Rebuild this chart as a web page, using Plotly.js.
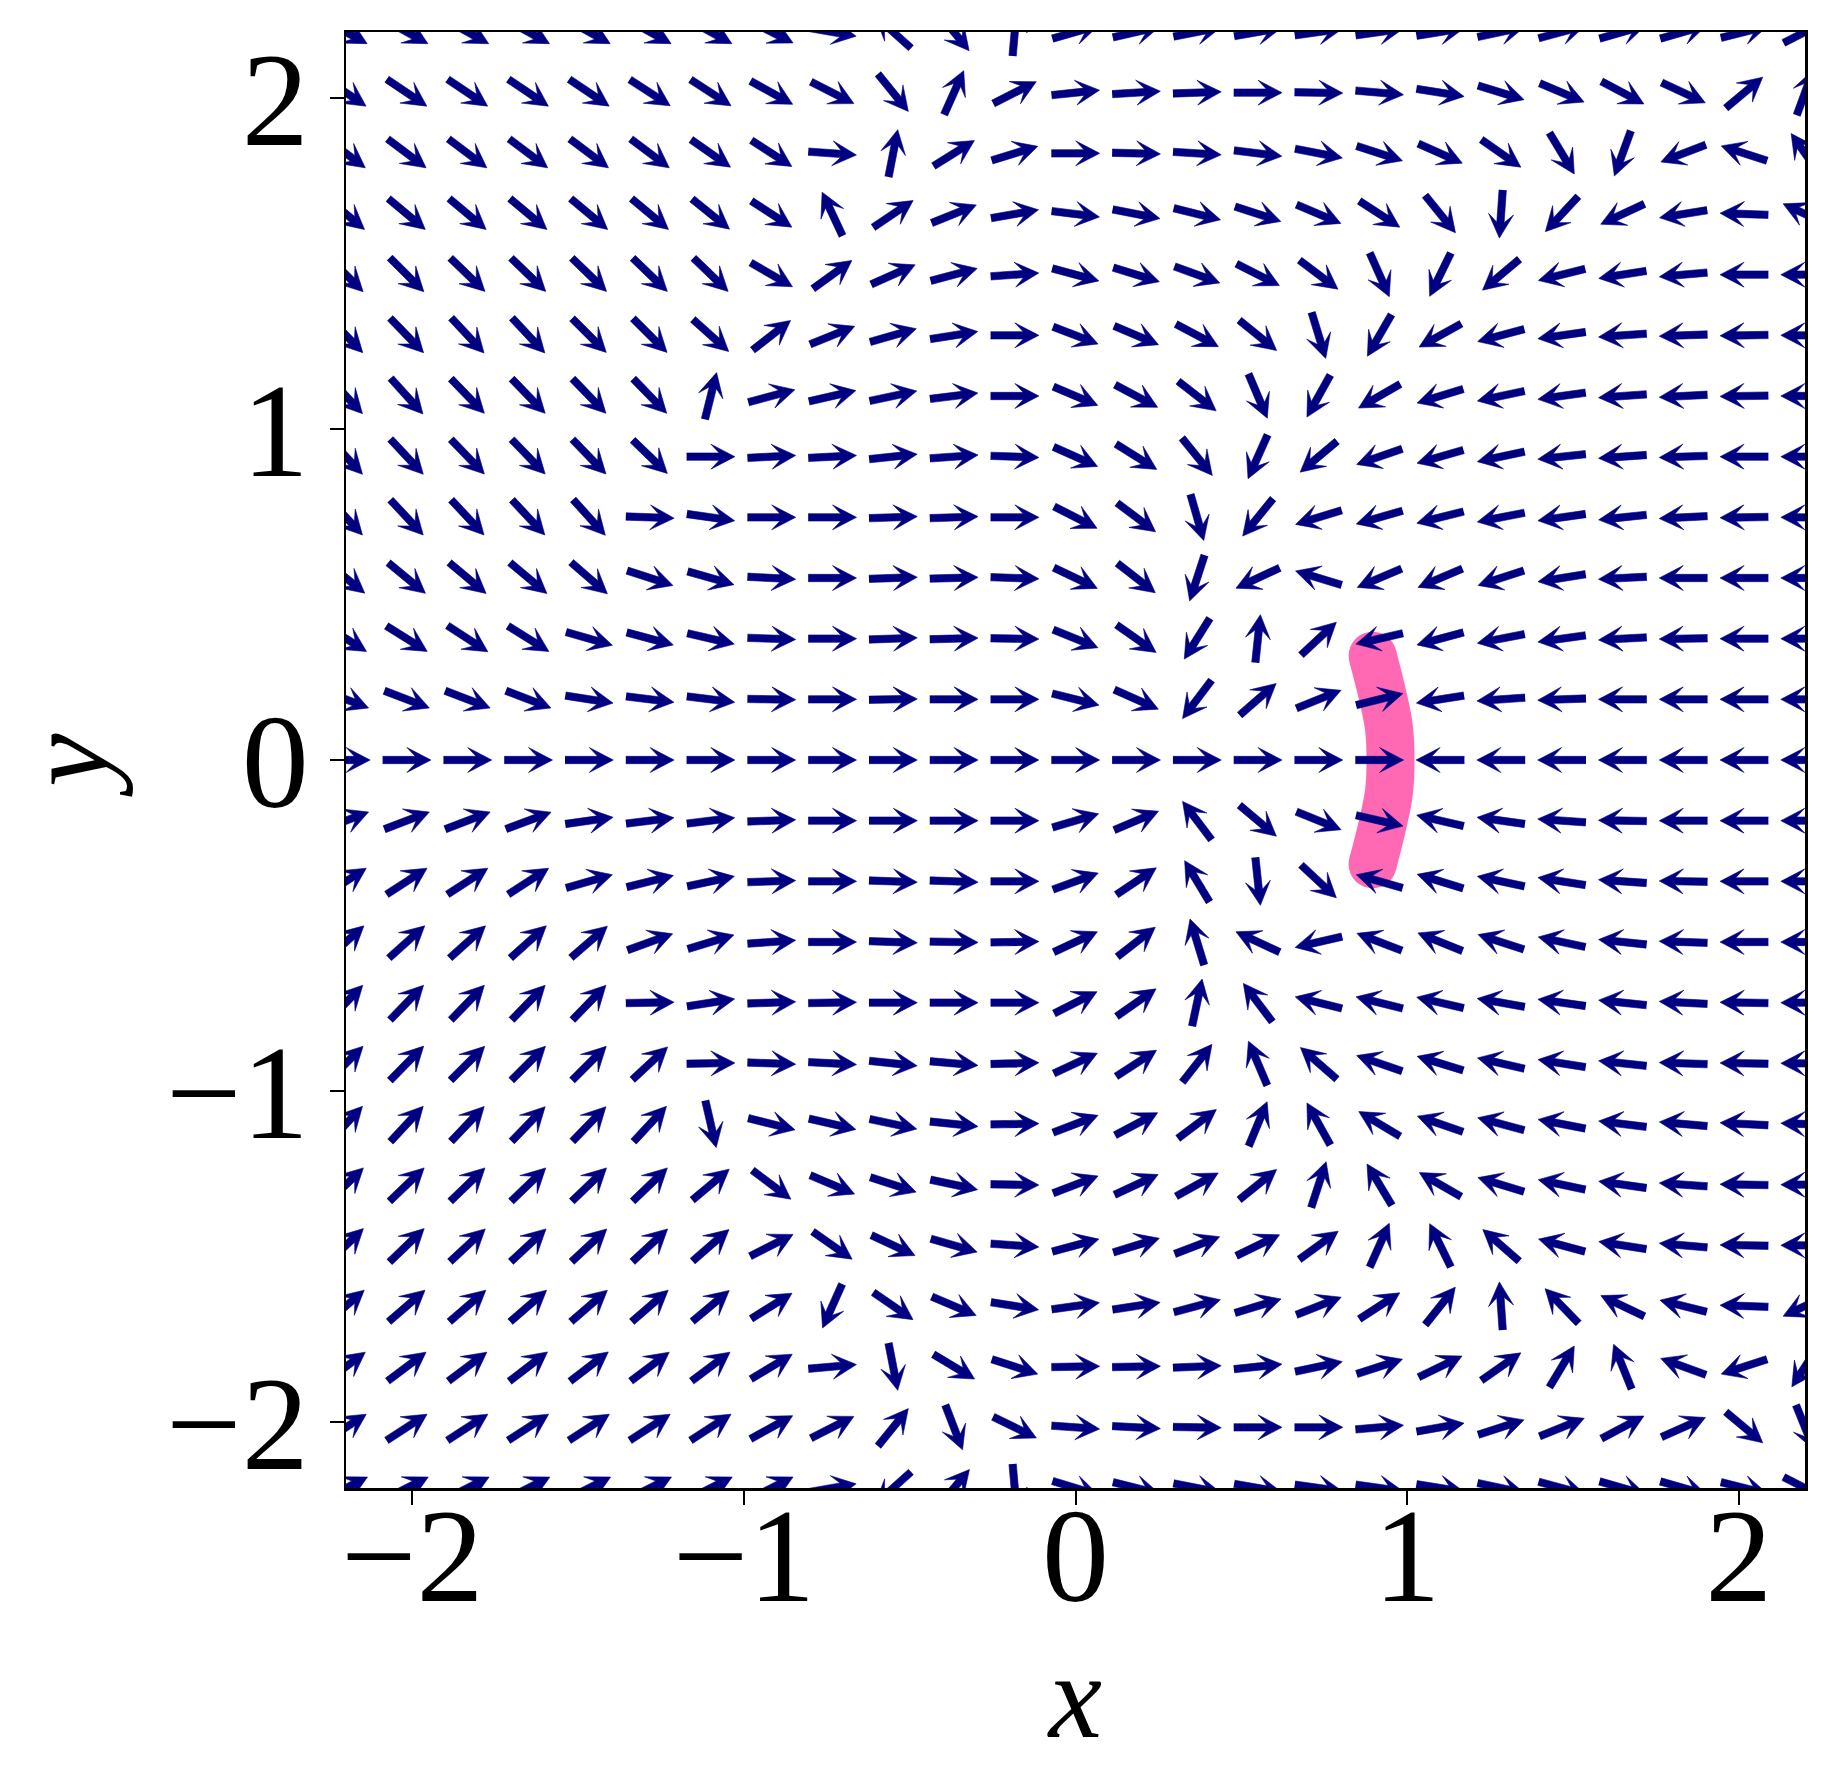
<!DOCTYPE html>
<html>
<head>
<meta charset="utf-8">
<script src="https://cdn.plot.ly/plotly-3.0.1.min.js"></script>
<style>html,body{margin:0;padding:0;background:#fff;}</style>
</head>
<body>
<div id="chart" style="width:1834px;height:1787px;"></div>
<script>
// grid positions (arrow centres)
const gridX = [-2.2, -2.0167, -1.8333, -1.65, -1.4667, -1.2833, -1.1, -0.9167, -0.7333, -0.55, -0.3667, -0.1833, 0, 0.1833, 0.3667, 0.55, 0.7333, 0.9167, 1.1, 1.2833, 1.4667, 1.65, 1.8333, 2.0167, 2.2];
const gridY = [2.2, 2.0167, 1.8333, 1.65, 1.4667, 1.2833, 1.1, 0.9167, 0.7333, 0.55, 0.3667, 0.1833, 0, -0.1833, -0.3667, -0.55, -0.7333, -0.9167, -1.1, -1.2833, -1.4667, -1.65, -1.8333, -2.0167, -2.2];
// arrow direction (degrees, counter-clockwise from +x), one row per gridY value
const arrowAngleDeg = [
 [-29,-29,-29,-29,-29,-29,-29,-27,-10,138,-51,85,16,13,11,10,8,8,9,12,15,16,16,14,27],
 [-34,-34,-34,-34,-34,-33,-33,-29,-27,-51,66,27,6,3.5,2,0,-1,-5,-9,-17,-23,-28,-25,40,70],
 [-37,-37,-37,-37,-37,-37,-35,-33,-4,79,32,17,0,-1.5,-3.5,-7,-11,-18,-24,-35,-59,250,201,162,125],
 [-40,-40,-40,-40,-40,-40,-39,-33,115,34,22,10,-7,-11,-14,-18,-23,-33,-51,266,227,205,189,178,155],
 [-45,-45,-44,-44,-44,-44,-44,-30,36,24,15,4,-15,-17,-20,-27,-37,-66,244,220,194,189,185,180,180],
 [-46,-46,-47,-47,-45,-45,-42,38,22,16,9,0,-21,-23,-28,-39,-73,240,209,195,188,184,182,181,180],
 [-47,-48,-46,-46,-46,-46,76,15,13,12,7,0,-23,-28,-38,-67,241,210,197,192,188,184,183,181,180],
 [-47,-47,-46,-46,-46,-44,0,3,3,6,4,-2,-24,-32,-51,246,220,199,196,192,186,184,182,180,180],
 [-47,-47,-47,-47,-48,-2,-8,0,0,2,2,0,-27,-37,-74,231,197,196,194,191,188,186,183,181,180],
 [-39,-39.5,-40,-40,-41,-18,-16,-3,0,2,1.5,-2,-25.5,-38,252,205,163,203,203,198,189,183,180,180,180],
 [-32,-32,-33,-32,-16,-15,-13,-2,0,2,1.5,-1,-22,-35,238,84,43,193,195,191,188,183,181,180,180],
 [-21,-21,-21,-21,-9,-7,-7,-1,0,1,0,0,-14,-24,233,41,22,14,189,184,182,180,180,180,180],
 [0,0,0,0,0,0,0,0,0,0,0,0,0,0,0,0,0,0,180,180,180,180,180,180,180],
 [21,21,21,20.5,8,7,7,2,0,0,0,0,16.5,23,127,-40,-22,-13,167,172,176,179,180,180,180],
 [33,33,33,33,16,14,12,2,0,-2,-2,0,20,34,121,-84,-43,164,163,168,171,176,179,180,180],
 [42,42,42,42,41,20,17,4,0,-2,-1,1,25,38,107,155,193,159,158,162,168,174,178,180,180],
 [46,46,46,46,46,1,9,2,1,0,0,0,27,35,78,127,166,166,167,170,172,174,177,179,180],
 [45,45.6,45,45,45,43,1,-2,-3,-6,-5,1.6,25,33,52,113,139,161,163,167,171,174,178,179,180],
 [47,47,46.5,46,46,47,-77,-14,-13,-12,-6,1,21,28,37,67.5,119,149,161,165,169,173,175,177,178],
 [44,44,44,44,44,44,40,-37,-23,-18,-12,-1,21,25,29,39,72,121,150,163,168,172,176,179,180],
 [44,44,43,43,43,43,41,27,-35,-25,-16,-4,15,17,21,26,36,66,116,139,165,171,175,179,180],
 [41,41,41,41,41,41,40,32,246,-34.5,-23,-9,8,8.6,15,17,21.5,33,51.5,94,134,154.5,166,178,205],
 [37,37,37,37.6,37.6,37,37,31,5,-79,-31,-18,1,1,2.4,6,12,18,26,35,59,112,160,198,237],
 [33,33,33,33,33,33,33,29,27,51,-69,-26,-4,-3,-1,0,0,5,10,18,22,28,24,-40,-68],
 [27,27,27,27,27,27,27,27,10,222,50,-85,-17,-14,-11,-10,-8,-8,-9,-12,-15,-16,-16,-14,-27]
];
// pink arc
const arcX = [0.896, 0.925, 0.945, 0.95, 0.945, 0.925, 0.896];
const arcY = [0.315, 0.2, 0.1, 0, -0.1, -0.2, -0.315];
const tickVals = [-2, -1, 0, 1, 2];
const tickText = ['\u22122', '\u22121', '0', '1', '2'];

// arrow geometry (data units), pivot at middle
const L = 0.1457, SW = 0.0111, HL = 0.0724, HAL = 0.0474, HW = 0.0377;
const local = [[-L/2,-SW],[L/2-HAL,-SW],[L/2-HL,-HW],[L/2,0],[L/2-HL,HW],[L/2-HAL,SW],[-L/2,SW]];
const qx = [], qy = [];
for (let j = 0; j < gridY.length; j++) {
  for (let i = 0; i < gridX.length; i++) {
    const t = arrowAngleDeg[j][i] * Math.PI / 180;
    const c = Math.cos(t), s = Math.sin(t);
    for (const [a, b] of local) {
      qx.push(gridX[i] + a * c - b * s);
      qy.push(gridY[j] + a * s + b * c);
    }
    qx.push(null); qy.push(null);
  }
}

const pink = '#FF69B4', navy = '#000080';
const traces = [
  {x: arcX, y: arcY, mode: 'lines', line: {color: pink, width: 48, shape: 'spline'}, hoverinfo: 'skip', showlegend: false},
  {x: [arcX[0], arcX[arcX.length-1]], y: [arcY[0], arcY[arcY.length-1]], mode: 'markers',
   marker: {color: pink, size: 48, line: {width: 0}}, hoverinfo: 'skip', showlegend: false},
  {x: qx, y: qy, mode: 'lines', fill: 'toself', fillcolor: navy, line: {color: navy, width: 0.6},
   connectgaps: false, hoverinfo: 'skip', showlegend: false}
];

const serif = 'Liberation Serif, Times New Roman, serif';
const tickFont = {family: serif, size: 134, color: '#000'};
const titleFont = {family: serif, size: 120, color: '#000'};
const axisCommon = {
  range: [-2.2, 2.2], showgrid: false, zeroline: false, showline: true, mirror: true,
  linecolor: '#000', linewidth: 2.5, ticks: 'outside', ticklen: 14, tickwidth: 2, tickcolor: '#000',
  tickmode: 'array', tickvals: tickVals, ticktext: tickText, tickfont: tickFont, fixedrange: true
};
const layout = {
  width: 1834, height: 1787,
  margin: {l: 346, r: 29, t: 32, b: 299, pad: 0},
  paper_bgcolor: '#fff', plot_bgcolor: '#fff',
  xaxis: Object.assign({}, axisCommon, {ticklabelstandoff: -64,
    title: {text: '<i>x</i>', font: titleFont, standoff: 18}}),
  yaxis: Object.assign({}, axisCommon, {ticklabelstandoff: -6,
    title: {text: '<i>y</i>', font: titleFont, standoff: 24}}),
  showlegend: false
};
Plotly.newPlot('chart', traces, layout, {staticPlot: true, displayModeBar: false});
</script>
</body>
</html>
